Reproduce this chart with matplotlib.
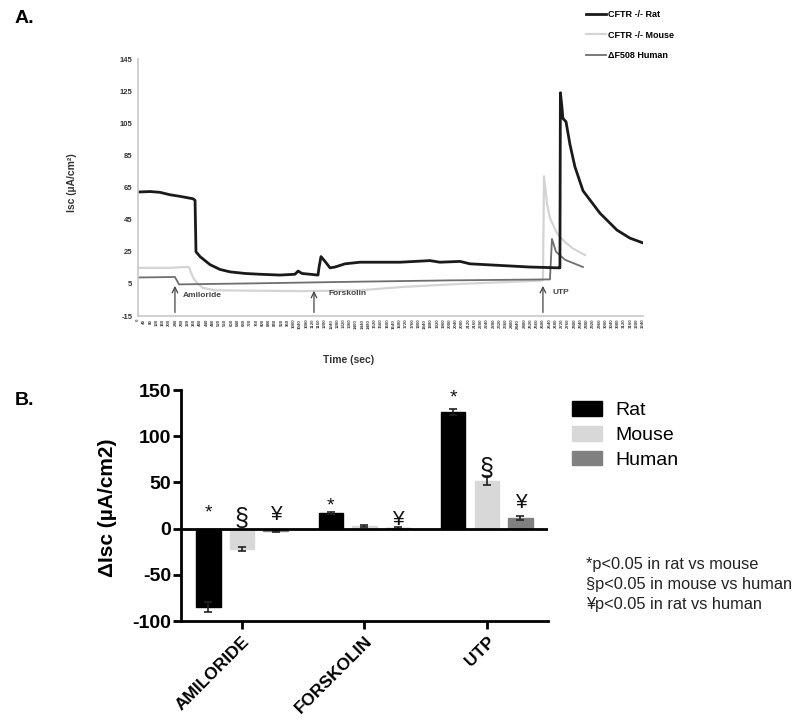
import matplotlib.pyplot as plt
from matplotlib.lines import Line2D
from matplotlib.patches import Patch
import numpy as np

plt.rcParams['font.family'] = ['Liberation Sans', 'DejaVu Sans']
plt.rcParams['axes.unicode_minus'] = False

# ---- Panel A: Isc traces (time in sec, Isc in uA/cm2) ----
rat_t = [0, 77, 141, 205, 270, 353, 366, 372, 398, 462, 526, 590, 686, 783, 911,
         1007, 1027, 1052, 1155, 1161, 1174, 1200, 1232, 1264, 1328, 1424, 1681,
         1873, 1937, 2066, 2130, 2322, 2515, 2695, 2707, 2710, 2720, 2726, 2746,
         2771, 2803, 2855, 2964, 3073, 3156, 3240]
rat_isc = [62.2, 62.5, 62, 60.5, 59.5, 58, 57, 25, 22, 17, 14, 12.5, 11.5, 11, 10.5,
           11, 13, 11.5, 10.5, 15, 22, 19, 15, 15.5, 17.5, 18.5, 18.5,
           19.5, 18.5, 19, 17.5, 16.5, 15.5, 15, 15, 124, 115, 108, 106,
           92, 78, 63, 49, 38.5, 33.5, 30.5]

mouse_t = [0, 205, 302, 327, 340, 359, 385, 417, 494, 1039, 1424, 1681, 2066,
           2322, 2579, 2598, 2605, 2624, 2643, 2688, 2740, 2791, 2868]
mouse_isc = [15, 15, 15.5, 15.5, 12, 8, 5, 2.5, 1, 0.5, 1, 3, 5,
             6, 7, 7.5, 72, 55, 46, 36.5, 31, 27, 23]

human_t = [0, 237, 250, 263, 719, 1360, 2002, 2643, 2656, 2682, 2740, 2855]
human_isc = [9, 9.3, 7, 4.7, 5.3, 6.3, 7.2, 7.8, 33, 25, 20, 15.5]

events = ['Amiloride', 'Forskolin', 'UTP']
event_t = [237, 1129, 2598]
event_tip = [5.5, 2.4, 5.5]
label_t = [285, 1220, 2660]
label_y = [-2, -0.7, -0.1]

time_ticks = list(range(0, 3241, 40))

# ---- Panel B: delta Isc ----
drugs = ['AMILORIDE', 'FORSKOLIN', 'UTP']
species = ['Rat', 'Mouse', 'Human']
rat_d = [-85, 17, 126]
rat_err = [5.5, 1, 3]
mouse_d = [-22, 3, 52]
mouse_err = [2.5, 1, 4.5]
human_d = [-3, 1, 11.5]
human_err = [1, 1, 2.5]
marks = [['*', '§', '¥'], ['*', '', '¥'], ['*', '§', '¥']]
mark_y = [[17, 10, 15], [24, 0, 10], [141, 65, 28]]

fig = plt.figure(figsize=(8, 7.25), dpi=100)

# ===== A =====
axA = fig.add_axes([0.1725, 0.5641, 0.63125, 0.3545])
axA.plot(mouse_t, mouse_isc, color='#d4d4d4', lw=1.6)
axA.plot(human_t, human_isc, color='#6e6e6e', lw=1.3)
axA.plot(rat_t, rat_isc, color='#1a1a1a', lw=2.0)
axA.set_xlim(0, 3240)
axA.set_ylim(-15, 145)
axA.set_yticks(range(-15, 146, 20))
axA.set_xticks(time_ticks)
axA.set_xticklabels([str(t) for t in time_ticks], rotation=90, fontsize=3.2,
                    color='#444444', fontweight='bold')
axA.tick_params(axis='y', labelsize=5.5, length=0, pad=4)
axA.tick_params(axis='x', length=0, pad=2)
for lab in axA.get_yticklabels():
    lab.set_fontweight('bold')
    lab.set_color('#333333')
for s in ['top', 'right']:
    axA.spines[s].set_visible(False)
for s in ['left', 'bottom']:
    axA.spines[s].set_color('#c8c8c8')
    axA.spines[s].set_linewidth(1.2)
axA.set_ylabel('Isc (µA/cm²)', fontsize=7.5, fontweight='bold', color='#333333')
axA.yaxis.set_label_coords(-0.12, 0.52)
axA.set_xlabel('Time (sec)', fontsize=7.5, fontweight='bold', color='#333333')
axA.xaxis.set_label_coords(0.416, -0.152)

for name, t, tip, lt, ly in zip(events, event_t, event_tip, label_t, label_y):
    axA.annotate('', xy=(t, tip), xytext=(t, -14.5),
                 arrowprops=dict(arrowstyle='->', color='#444444', lw=0.9))
    axA.text(lt, ly, name, fontsize=6, fontweight='bold', color='#444444', va='center')

legA = [Line2D([0], [0], color='#1a1a1a', lw=2.0),
        Line2D([0], [0], color='#d4d4d4', lw=1.6),
        Line2D([0], [0], color='#6e6e6e', lw=1.3)]
fig.legend(legA, ['CFTR -/- Rat', 'CFTR -/- Mouse', 'ΔF508 Human'],
           loc='upper left', bbox_to_anchor=(0.722, 0.997), frameon=False,
           labelspacing=1.25, handlelength=2.2, handletextpad=0.3,
           prop={'size': 6.5, 'weight': 'bold'})

fig.text(0.018, 0.975, 'A.', fontsize=14, fontweight='bold', va='center')

# ===== B =====
axB = fig.add_axes([0.226, 0.1434, 0.459, 0.3186])
x = np.arange(len(drugs))
w = 0.2
off = 0.275
colors = ['#000000', '#d8d8d8', '#808080']
for i, (vals, errs, c) in enumerate(zip([rat_d, mouse_d, human_d],
                                         [rat_err, mouse_err, human_err], colors)):
    axB.bar(x + (i - 1) * off, vals, w, color=c, edgecolor=c, zorder=2)
    axB.errorbar(x + (i - 1) * off, vals, yerr=errs, fmt='none', ecolor='#222222',
                 elinewidth=1.2, capsize=3, capthick=1.2, zorder=3)

for j in range(len(drugs)):
    for i in range(3):
        m = marks[j][i]
        if m:
            fs = {'*': 14, '§': 18, '¥': 15}[m]
            axB.text(x[j] + (i - 1) * off, mark_y[j][i], m, ha='center', va='center',
                     fontsize=fs, color='#111111')

axB.axhline(0, color='black', lw=2, zorder=4)
axB.set_xlim(-0.5, 2.5)
axB.set_ylim(-100, 150)
axB.set_yticks([-100, -50, 0, 50, 100, 150])
axB.set_xticks(x)
axB.set_xticklabels(drugs, rotation=45, ha='right', rotation_mode='anchor',
                    fontsize=12.5, fontweight='bold')
for lab in axB.get_yticklabels():
    lab.set_fontweight('bold')
axB.tick_params(axis='y', labelsize=14, width=2, length=6, pad=1)
axB.tick_params(axis='x', width=2, length=6, pad=3)
for s in ['top', 'right']:
    axB.spines[s].set_visible(False)
for s in ['left', 'bottom']:
    axB.spines[s].set_linewidth(2)
axB.set_ylabel('ΔIsc (µA/cm2)', fontsize=15, fontweight='bold')
axB.yaxis.set_label_coords(-0.175, 0.49)

legB = [Patch(facecolor=c, edgecolor=c) for c in colors]
fig.legend(legB, species, loc='upper left', bbox_to_anchor=(0.715, 0.447), frameon=False,
           borderpad=0, borderaxespad=0,
           fontsize=14, handlelength=1.55, handleheight=0.8, labelspacing=0.34,
           handletextpad=0.7)

notes = ['*p<0.05 in rat vs mouse', '§p<0.05 in mouse vs human', '¥p<0.05 in rat vs human']
for k, n in enumerate(notes):
    fig.text(0.733, 1 - (565 + 20 * k) / 725, n, fontsize=11.8, va='center', color='#222222')

fig.text(0.018, 0.448, 'B.', fontsize=14, fontweight='bold', va='center')

fig.savefig('out.png', dpi=100)
